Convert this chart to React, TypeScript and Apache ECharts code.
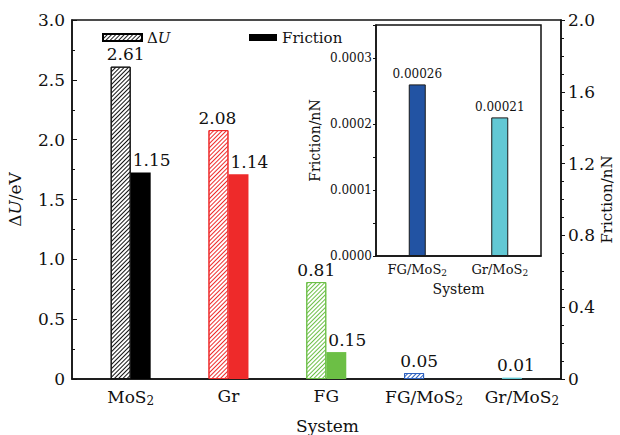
import React, { useEffect, useRef } from 'react';
import * as echarts from 'echarts';

// ---- data ----
const categories = ['MoS{s|2}', 'Gr', 'FG', 'FG/MoS{s|2}', 'Gr/MoS{s|2}'];
const categoryPositions = [1, 2, 3, 4, 5];
const deltaU = [2.61, 2.08, 0.81, 0.05, 0.01];
const friction = [1.15, 1.14, 0.15, 0.00026, 0.00021];
const frictionShowLabel = [true, true, true, false, false];
const hatchColors = ['#111111', '#ee2b2b', '#6cbf47', '#2e62c0', '#63c8d3'];
const frictionColors = ['#000000', '#ee2a2a', '#6cbf45', '#2155a3', '#63c8d3'];
const deltaULabelShift = [5, -1, 0, 5, 4];

const insetCategories = ['FG/MoS{s|2}', 'Gr/MoS{s|2}'];
const insetFriction = [0.00026, 0.00021];
const insetLabels = ['0.00026', '0.00021'];
const insetColors = ['#2253a3', '#62c8d4'];

const FONT = 'DejaVu Serif';
const INK = '#111';
const MAIN = 17;

const hatch = (color: string) => ({
  symbol: 'rect',
  symbolSize: 1,
  color,
  backgroundColor: 'transparent',
  dashArrayX: [1, 0],
  dashArrayY: [1, 1.8],
  rotation: -Math.PI / 4,
});

const subRich = (size: number) => ({
  s: { fontSize: Math.round(size * 0.7), fontFamily: FONT, color: INK, padding: [Math.round(size * 0.45), 0, 0, 0] },
});

export default function App() {
  const ref = useRef<HTMLDivElement>(null);
  useEffect(() => {
    document.body.style.margin = '0';
    if (!ref.current) return;
    const chart = echarts.init(ref.current, undefined, { renderer: 'svg' });

    const option: any = {
      animation: false,
      backgroundColor: '#fff',
      textStyle: { fontFamily: FONT, color: INK },
      legend: [
        {
          data: ['ΔU'],
          left: 97,
          top: 25,
          itemWidth: 39,
          itemHeight: 7,
          icon: 'rect',
          formatter: () => '{d|Δ}{i|U}',
          textStyle: {
            fontFamily: FONT,
            fontSize: 15,
            color: INK,
            rich: {
              d: { fontFamily: FONT, fontSize: 15, color: INK },
              i: { fontFamily: FONT, fontSize: 15, fontStyle: 'italic', color: INK },
            },
          },
        },
        {
          data: ['Friction'],
          left: 244,
          top: 25,
          itemWidth: 28,
          itemHeight: 7,
          icon: 'rect',
          textStyle: { fontFamily: FONT, fontSize: 15, color: INK },
        },
      ],
      grid: [
        {
          left: 72,
          top: 20,
          width: 489,
          height: 359,
          outerBoundsMode: 'none',
          containLabel: false,
          show: true,
          borderColor: INK,
          borderWidth: 1.5,
          backgroundColor: 'transparent',
        },
        {
          left: 376,
          top: 25,
          width: 165,
          height: 231,
          outerBoundsMode: 'none',
          containLabel: false,
          show: true,
          borderColor: INK,
          borderWidth: 1.5,
          backgroundColor: '#fff',
        },
      ],
      xAxis: [
        {
          type: 'value',
          gridIndex: 0,
          min: 0.4,
          max: 5.4,
          axisLine: { lineStyle: { color: INK, width: 1.5 } },
          axisTick: { show: false },
          splitLine: { show: false },
          axisLabel: {
            customValues: categoryPositions,
            formatter: (v: number) => categories[Math.round(v) - 1] ?? '',
            fontSize: MAIN,
            fontFamily: FONT,
            color: INK,
            margin: 8,
            rich: subRich(MAIN),
          },
          name: 'System',
          nameLocation: 'middle',
          nameGap: 38,
          nameTextStyle: { fontSize: MAIN, fontFamily: FONT, color: INK, padding: [0, 0, 0, 22] },
        },
        {
          type: 'category',
          gridIndex: 1,
          data: insetCategories,
          boundaryGap: true,
          axisLine: { lineStyle: { color: INK, width: 1.5 } },
          axisTick: { show: false },
          axisLabel: {
            interval: 0,
            hideOverlap: false,
            fontSize: 13,
            fontFamily: FONT,
            color: INK,
            margin: 6,
            rich: subRich(13),
          },
          name: 'System',
          nameLocation: 'middle',
          nameGap: 26,
          nameTextStyle: { fontSize: 14, fontFamily: FONT, color: INK },
        },
      ],
      yAxis: [
        {
          type: 'value',
          gridIndex: 0,
          position: 'left',
          min: 0,
          max: 3,
          interval: 0.5,
          axisLine: { show: true, lineStyle: { color: INK, width: 1.5 } },
          axisTick: { show: true, inside: true, length: 5, lineStyle: { color: INK } },
          minorTick: { show: true, splitNumber: 2, length: 3, lineStyle: { color: INK } },
          splitLine: { show: false },
          axisLabel: {
            fontSize: MAIN,
            fontFamily: FONT,
            color: INK,
            margin: 7,
            formatter: (v: number) => (v === 0 ? '0' : v.toFixed(1)),
          },
          name: '{d|Δ}{i|U}{d|/eV}',
          nameLocation: 'middle',
          nameGap: 49,
          nameRotate: 90,
          nameTextStyle: {
            fontSize: MAIN,
            fontFamily: FONT,
            color: INK,
            rich: {
              d: { fontSize: MAIN, fontFamily: FONT, color: INK },
              i: { fontSize: MAIN, fontFamily: FONT, fontStyle: 'italic', color: INK },
            },
          },
        },
        {
          type: 'value',
          gridIndex: 0,
          position: 'right',
          min: 0,
          max: 2,
          interval: 0.4,
          axisLine: { show: true, lineStyle: { color: INK, width: 1.5 } },
          axisTick: { show: true, inside: false, length: 4, lineStyle: { color: INK } },
          minorTick: { show: true, splitNumber: 4, length: 3, lineStyle: { color: INK } },
          splitLine: { show: false },
          axisLabel: {
            fontSize: MAIN,
            fontFamily: FONT,
            color: INK,
            margin: 7,
            formatter: (v: number) => (v === 0 ? '0' : v.toFixed(1)),
          },
          name: 'Friction/nN',
          nameLocation: 'middle',
          nameGap: 38,
          nameMoveOverlap: false,
          nameRotate: 90,
          nameTextStyle: { fontSize: 15, fontFamily: FONT, color: INK },
        },
        {
          type: 'value',
          gridIndex: 1,
          min: 0,
          max: 0.00035,
          interval: 0.0001,
          axisLine: { show: true, lineStyle: { color: INK, width: 1.5 } },
          axisTick: { show: true, inside: false, length: 3, lineStyle: { color: INK } },
          minorTick: { show: true, splitNumber: 2, length: 3, lineStyle: { color: INK } },
          splitLine: { show: false },
          axisLabel: {
            fontSize: 12,
            fontFamily: FONT,
            color: INK,
            margin: 4,
            showMaxLabel: false,
            formatter: (v: number) => {
              const k = v / 0.0001;
              return Math.abs(k - Math.round(k)) < 1e-6 ? v.toFixed(4) : '';
            },
          },
          name: 'Friction/nN',
          nameLocation: 'middle',
          nameGap: 54,
          nameRotate: 90,
          nameTextStyle: { fontSize: 14, fontFamily: FONT, color: INK },
        },
      ],
      series: [
        {
          name: 'ΔU',
          type: 'bar',
          xAxisIndex: 0,
          yAxisIndex: 0,
          barWidth: 20,
          barGap: '0%',
          itemStyle: { color: '#fff', borderColor: '#000', borderWidth: 1, decal: hatch('#222') },
          label: {
            show: true,
            position: 'top',
            distance: 4,
            fontSize: MAIN,
            fontFamily: FONT,
            color: INK,
            formatter: (p: any) => p.value[1].toFixed(2),
          },
          data: deltaU.map((v, i) => ({
            value: [categoryPositions[i], v],
            itemStyle: { color: '#fff', borderColor: hatchColors[i], borderWidth: 1, decal: hatch(hatchColors[i]) },
            label: { offset: [deltaULabelShift[i], 0] },
          })),
        },
        {
          name: 'Friction',
          type: 'bar',
          xAxisIndex: 0,
          yAxisIndex: 1,
          barWidth: 20,
          barGap: '0%',
          itemStyle: { color: '#000' },
          label: {
            show: true,
            position: 'top',
            distance: 4,
            fontSize: MAIN,
            fontFamily: FONT,
            color: INK,
            offset: [11, 0],
            formatter: (p: any) => p.value[1].toFixed(2),
          },
          data: friction.map((v, i) => ({
            value: [categoryPositions[i], v],
            itemStyle: { color: frictionColors[i] },
            label: { show: frictionShowLabel[i] },
          })),
        },
        {
          name: 'FrictionInset',
          type: 'bar',
          xAxisIndex: 1,
          yAxisIndex: 2,
          barWidth: 17,
          label: {
            show: true,
            position: 'top',
            distance: 4,
            fontSize: 12,
            fontFamily: FONT,
            color: INK,
            formatter: (p: any) => insetLabels[p.dataIndex],
          },
          data: insetFriction.map((v, i) => ({
            value: v,
            itemStyle: { color: insetColors[i], borderColor: '#1a1a1a', borderWidth: 1 },
          })),
        },
      ],
    };

    chart.setOption(option);
    return () => chart.dispose();
  }, []);

  return <div ref={ref} style={{ width: 620, height: 435 }} />;
}
